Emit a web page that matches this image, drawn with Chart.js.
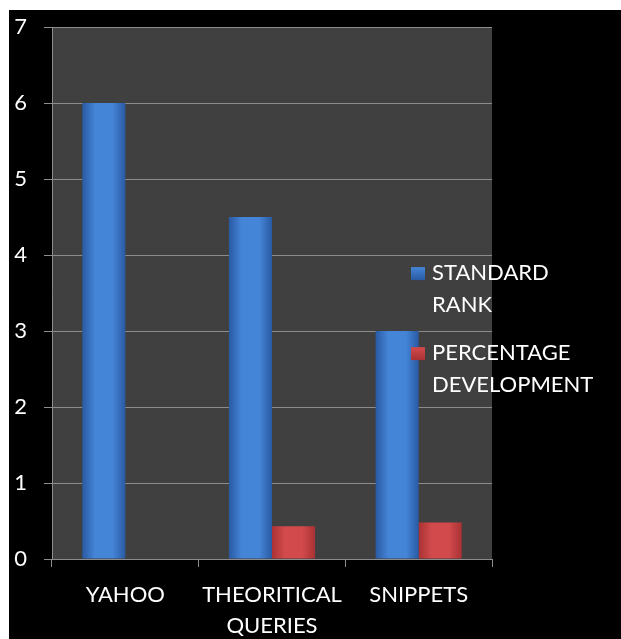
<!DOCTYPE html>
<html>
<head>
<meta charset="utf-8">
<script src="https://cdn.jsdelivr.net/npm/chart.js@4/dist/chart.umd.min.js"></script>
<style>
    html, body { margin: 0; padding: 0; background: #fff; }
    #wrap { position: absolute; left: 9px; top: 10px; width: 612px; height: 629px; background: #000; }
</style>
</head>
<body>
<div id="wrap"><canvas id="chart" width="612" height="629"></canvas></div>
<script>
// 데이터
const categories = ["YAHOO", ["THEORITICAL", "QUERIES"], "SNIPPETS"];
const standardRank = [6, 4.5, 3];
const percentageDev = [0, 0.43, 0.48];
const seriesNames = [["STANDARD", "RANK"], ["PERCENTAGE", "DEVELOPMENT"]];
const yTicks = [0, 1, 2, 3, 4, 5, 6, 7];

const FONT = "Lato, 'DejaVu Sans', sans-serif";
const barColors = [["#2a5aa3", "#4585d8"], ["#a93234", "#d24a4c"]];
const CAT_PCT = 0.587;

// 막대별 가로 그라데이션 (x축 눈금 위치로 계산)
function barFill(i) {
    return ctx => {
        const chart = ctx.chart;
        const xs = chart.scales.x;
        if (!xs || ctx.dataIndex === undefined) return barColors[i][1];
        const catW = xs.width / categories.length;
        const barW = catW * CAT_PCT / 2;
        const left = xs.getPixelForValue(ctx.dataIndex) - barW + i * barW;
        if (!isFinite(left) || !isFinite(barW) || barW <= 0) return barColors[i][1];
        const g = chart.ctx.createLinearGradient(left, 0, left + barW, 0);
        g.addColorStop(0, barColors[i][0]);
        g.addColorStop(0.3, barColors[i][1]);
        g.addColorStop(0.7, barColors[i][1]);
        g.addColorStop(1, barColors[i][0]);
        return g;
    };
}

// 플롯 영역 배경
const plotBg = {
    id: "plotBg",
    beforeDraw(chart) {
        const { ctx, chartArea: a } = chart;
        ctx.save();
        ctx.fillStyle = "#404040";
        ctx.fillRect(a.left, a.top, a.right - a.left, a.bottom - a.top);
        ctx.restore();
    }
};

// 범례 (여러 줄 텍스트)
const sideLegend = {
    id: "sideLegend",
    afterDraw(chart) {
        const { ctx, chartArea: a } = chart;
        const x = a.right - 81;
        const tops = [a.top + 246, a.top + 326];
        ctx.save();
        ctx.font = "22px " + FONT;
        ctx.textBaseline = "middle";
        for (let i = 0; i < seriesNames.length; i++) {
            const y = tops[i];
            const g = ctx.createLinearGradient(0, y - 6, 0, y + 7);
            g.addColorStop(0, barColors[i][1]);
            g.addColorStop(1, barColors[i][0]);
            ctx.fillStyle = g;
            ctx.fillRect(x, y - 6, 14, 13);
            ctx.fillStyle = "#fff";
            seriesNames[i].forEach((t, k) => ctx.fillText(t, x + 21, y + k * 32));
        }
        ctx.restore();
    }
};

new Chart(document.getElementById("chart"), {
    type: "bar",
    data: {
        labels: categories,
        datasets: [
            { label: seriesNames[0].join(" "), data: standardRank, backgroundColor: barFill(0), borderWidth: 0 },
            { label: seriesNames[1].join(" "), data: percentageDev, backgroundColor: barFill(1), borderWidth: 0 }
        ]
    },
    options: {
        responsive: false,
        animation: false,
        categoryPercentage: CAT_PCT,
        barPercentage: 1,
        layout: { padding: { top: 0, right: 129, left: 0, bottom: 0 } },
        plugins: {
            legend: { display: false },
            tooltip: { enabled: false }
        },
        scales: {
            x: {
                grid: { drawOnChartArea: false, color: "#8c8c8c", tickLength: 8, offset: true },
                border: { color: "#8c8c8c", width: 1 },
                ticks: { color: "#fff", font: { family: FONT, size: 22, lineHeight: 1.4 }, padding: 13, maxRotation: 0, autoSkip: false },
                afterFit(s) { s.height = 80; }
            },
            y: {
                min: 0,
                max: 7,
                afterBuildTicks(s) { s.ticks = yTicks.map(v => ({ value: v })); },
                grid: { color: "#8c8c8c", tickLength: 8 },
                border: { color: "#8c8c8c", width: 1 },
                ticks: { color: "#fff", font: { family: FONT, size: 22, lineHeight: 0.01 }, padding: 17 },
                afterFit(s) { s.width = 43; }
            }
        }
    },
    plugins: [plotBg, sideLegend]
});
</script>
</body>
</html>
